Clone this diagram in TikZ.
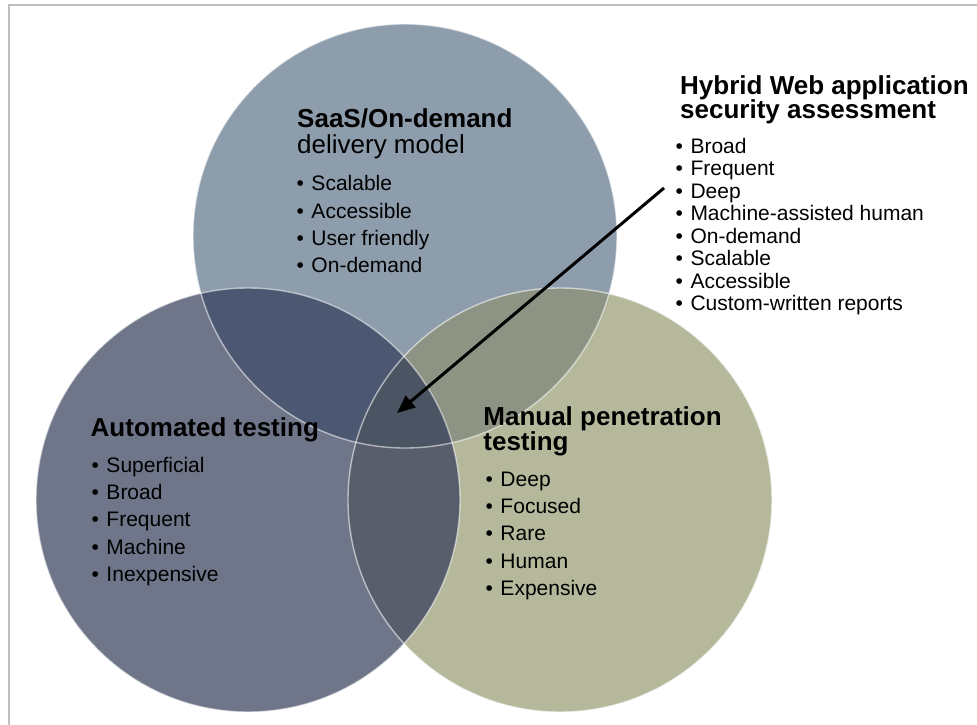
\documentclass[tikz,border=0pt]{standalone}
\usepackage{fontspec}
\setmainfont{Liberation Sans}
\usetikzlibrary{arrows.meta}
\definecolor{saasfill}{HTML}{8D9DAC}
\definecolor{autofill}{HTML}{6F7689}
\definecolor{manualfill}{HTML}{B6B89C}
\definecolor{saasauto}{HTML}{4C5872}
\definecolor{saasmanual}{HTML}{8D9483}
\definecolor{automanual}{HTML}{585E6B}
\definecolor{allthree}{HTML}{4B5462}
\tikzset{
  venntitle/.style={anchor=base west, inner sep=0pt, font=\fontsize{26}{26}\selectfont\bfseries},
  vennsub/.style={anchor=base west, inner sep=0pt, font=\fontsize{26}{26}\selectfont},
  vennitem/.style={anchor=base west, inner sep=0pt, font=\fontsize{21}{21}\selectfont},
  rim/.style={draw=white, draw opacity=.55, line width=1.4pt},
  frame/.style={draw=black!25, line width=1.5pt}
}
\newcommand{\bul}[1]{\makebox[15pt][l]{\textbullet}#1}
\begin{document}
\begin{tikzpicture}[x=1pt,y=-1pt]
\useasboundingbox (0,0) rectangle (977,725);
\draw[frame] (9,725) -- (9,5) -- (977,5);
% circle centres and radius
\coordinate (csaas) at (405,236);
\coordinate (cauto) at (248,500);
\coordinate (cmanual) at (560,500);
\pgfmathsetmacro\rad{212}
\fill[saasfill] (csaas) circle (\rad);
\fill[autofill] (cauto) circle (\rad);
\fill[manualfill] (cmanual) circle (\rad);
% overlaps
\begin{scope}
\clip (csaas) circle (\rad);
\fill[saasauto] (cauto) circle (\rad);
\fill[saasmanual] (cmanual) circle (\rad);
\end{scope}
\begin{scope}
\clip (cauto) circle (\rad);
\fill[automanual] (cmanual) circle (\rad);
\clip (csaas) circle (\rad);
\fill[allthree] (cmanual) circle (\rad);
\end{scope}
\foreach \c in {csaas,cauto,cmanual} \draw[rim] (\c) circle (\rad);
% SaaS
\node[venntitle] (saastitle) at (297,127) {SaaS/On-demand};
\node[vennsub] (saassub) at (297,153.3) {delivery model};
\foreach \txt [count=\i from 0] in {Scalable,Accessible,User friendly,On-demand}
  \node[vennitem] (saas-\i) at (296.3,190.7+27.3*\i) {\bul{\txt}};
% Automated
\node[venntitle] (autotitle) at (90.5,436.7) {Automated testing};
\foreach \txt [count=\i from 0] in {Superficial,Broad,Frequent,Machine,Inexpensive}
  \node[vennitem] (auto-\i) at (91.3,472.7+27.1*\i) {\bul{\txt}};
% Manual
\node[venntitle] (mantitle) at (483.2,425) {Manual penetration};
\node[venntitle] (mantitle2) at (483.2,450) {testing};
\foreach \txt [count=\i from 0] in {Deep,Focused,Rare,Human,Expensive}
  \node[vennitem] (man-\i) at (485.3,486.7+27.1*\i) {\bul{\txt}};
% Hybrid
\node[venntitle] (hybtitle) at (680,94.4) {Hybrid Web application};
\node[venntitle] (hybtitle2) at (680,118.9) {security assessment};
\foreach \txt [count=\i from 0] in {Broad,Frequent,Deep,Machine-assisted human,On-demand,Scalable,Accessible,Custom-written reports}
  \node[vennitem] (hyb-\i) at (675.3,153.3+22.48*\i) {\bul{\txt}};
% arrow into the centre
\coordinate (arrstart) at (664,188);
\coordinate (arrend) at (397,413);
\draw[line width=3pt, -{Triangle[length=18pt,width=15pt]}] (arrstart) -- (arrend);
\end{tikzpicture}
\end{document}
